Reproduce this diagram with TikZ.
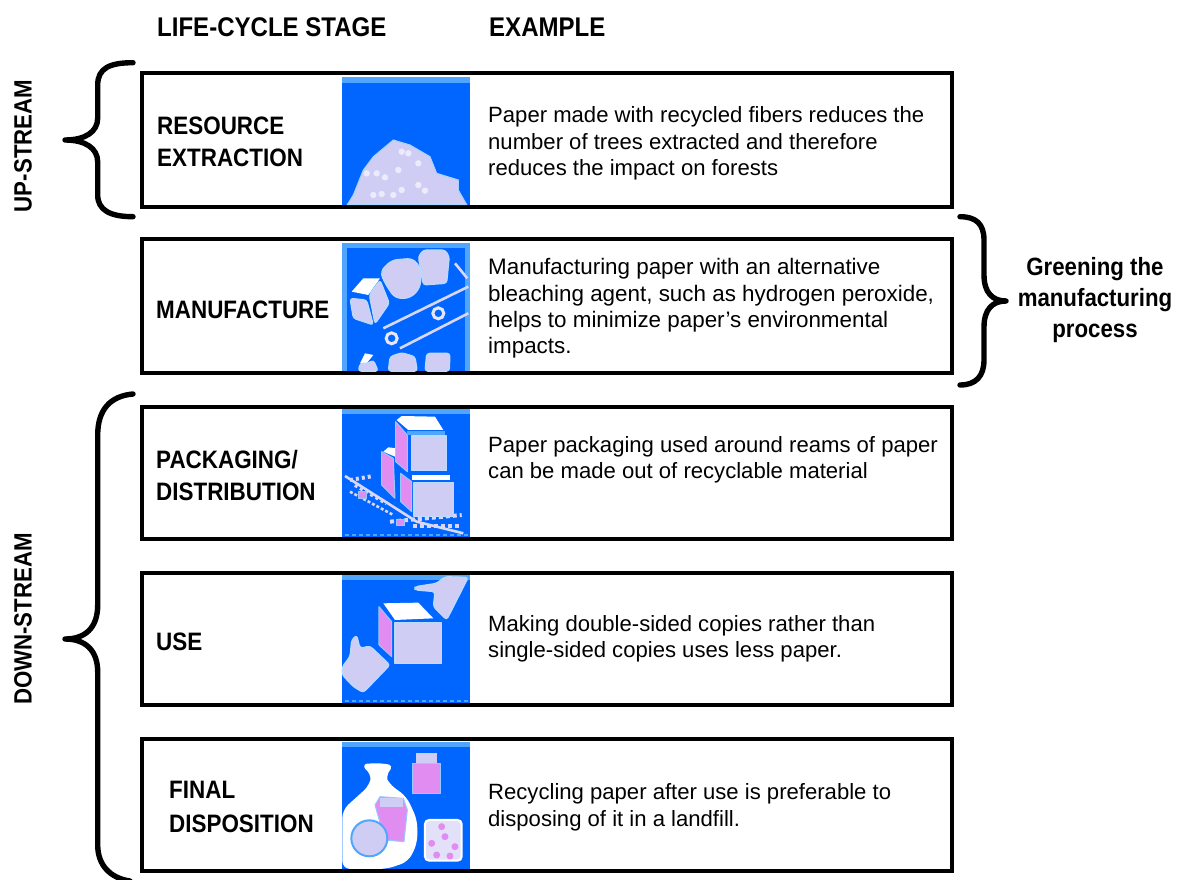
\documentclass[tikz,border=0pt]{standalone}
\usepackage{fontspec}
\setmainfont{Liberation Sans}
\newfontfamily\narrowb[FakeStretch=0.89]{Liberation Sans Bold}
\definecolor{iconblue}{RGB}{0,102,255}
\definecolor{lav}{RGB}{208,205,245}
\definecolor{pinkv}{RGB}{225,140,240}
\definecolor{edgeb}{RGB}{80,165,255}
\tikzset{
 boxr/.style={draw=black,line width=4pt,fill=white,outer sep=0pt,inner sep=0pt,minimum width=810pt,anchor=north west},
 brc/.style={draw=black,line width=5.4pt,line cap=round,line join=round},
 head/.style={font=\fontsize{27}{30}\narrowb,anchor=base west,inner sep=0pt},
 stage/.style={font=\fontsize{25.2}{32}\narrowb,anchor=west,align=left,inner sep=0pt},
 body/.style={font=\fontsize{22.1}{26.5}\selectfont,anchor=west,align=left,inner sep=0pt},
 side/.style={font=\fontsize{25}{31}\narrowb,align=center,inner sep=0pt},
 vert/.style={font=\fontsize{25}{26}\narrowb,rotate=90,inner sep=0pt},
 ibg/.style={fill=iconblue,draw=none},
 ilav/.style={fill=lav,draw=white!60!edgeb,line width=1.2pt,line join=round,rounded corners=3pt},
 ipink/.style={fill=pinkv,draw=white!40!edgeb,line width=1pt,line join=round},
 iwhite/.style={fill=white,draw=none},
 iline/.style={draw=white!20!lav,line width=2.6pt},
 ibase/.style={draw=edgeb,line width=2pt,dash pattern=on 4pt off 3pt},
}
\begin{document}
\begin{tikzpicture}[x=1pt,y=-1pt]
\useasboundingbox (0,0) rectangle (1178,880);
\fill[white] (0,0) rectangle (1178,880);
% headers
\node[head] (h1) at (157,37) {LIFE-CYCLE STAGE};
\node[head] (h2) at (489,37) {EXAMPLE};
% boxes
\node[boxr,minimum height=134pt] (b1) at (142,73) {};
\node[boxr,minimum height=134pt] (b2) at (142,239) {};
\node[boxr,minimum height=132pt] (b3) at (142,407) {};
\node[boxr,minimum height=132pt] (b4) at (142,573) {};
\node[boxr,minimum height=132pt] (b5) at (142,739) {};
% icon 1
\begin{scope}[shift={(330,70)},x=0.3333pt,y=-0.3333pt]
\fill[ibg] (37,22) rectangle (420,404);
\fill[edgeb] (37,22) rectangle (420,38);
\fill[lav,draw=white!50!edgeb,line width=1pt] (52,404) -- (70,375) -- (100,300) -- (130,260) -- (160,235) -- (190,210) -- (240,225) -- (300,260) -- (320,310) -- (385,330) -- (385,360) -- (410,404) -- cycle;
\foreach \p in {(110,310),(140,310),(165,322),(205,300),(215,245),(235,250),(265,280),(265,345),(285,362),(130,375),(215,360),(155,372),(190,375)}
  \fill[white!60!lav] \p circle (3.2pt);
\end{scope}
% icon 2
\begin{scope}[shift={(330,70)},x=0.3333pt,y=-0.3333pt]
\fill[ibg] (40,520) rectangle (418,904);
\fill[edgeb] (37,520) rectangle (420,535);
\fill[edgeb] (37,520) rectangle (52,904);
\fill[edgeb] (405,520) rectangle (420,904);
\draw[ilav,rounded corners=6pt] (150,605) -- (185,570) -- (250,565) -- (275,600) -- (270,655) -- (240,685) -- (195,685) -- (165,640) -- cycle;
\draw[ilav] (265,560) -- (280,540) -- (345,540) -- (358,560) -- (350,640) -- (280,645) -- cycle;
\fill[iwhite] (65,665) -- (100,625) -- (150,625) -- (115,675) -- cycle;
\draw[ilav] (60,685) -- (110,690) -- (130,765) -- (70,745) -- cycle;
\draw[ilav] (118,675) -- (150,630) -- (178,700) -- (135,762) -- cycle;
\draw[iline] (160,775) -- (415,650);
\draw[iline] (210,835) -- (415,730);
\draw[iline] (375,580) -- (412,625);
\draw[white!50!lav,line width=3pt] (185,805) circle (5.5pt);
\draw[white!50!lav,line width=3pt] (325,730) circle (5.5pt);
\draw[ilav] (175,904) -- (180,860) -- (215,848) -- (255,860) -- (262,904) -- cycle;
\draw[ilav] (285,904) -- (290,850) -- (360,850) -- (358,904) -- cycle;
\fill[iwhite] (90,880) -- (105,850) -- (130,855) -- (110,880) -- cycle;
\draw[ilav] (90,880) -- (115,880) -- (130,870) -- (145,904) -- (85,904) -- cycle;
\end{scope}
% icon 3
\begin{scope}[shift={(330,400)},x=0.3333pt,y=-0.3333pt]
\fill[ibg] (37,27) rectangle (420,410);
\fill[edgeb] (37,27) rectangle (420,42);
\draw[ibase] (45,404) -- (420,404);
\draw[iline] (45,228) -- (260,365) -- (400,400);
\draw[iline,dash pattern=on 3pt off 2pt] (60,275) -- (190,345);
\draw[iline,line width=4pt,dash pattern=on 3pt off 3pt] (60,240) -- (130,228);
\draw[iline,line width=4pt,dash pattern=on 3pt off 3pt] (75,255) -- (170,310);
\fill[ipink] (85,275) rectangle (110,295);
\draw[iline,line width=4pt,dash pattern=on 4pt off 3pt] (180,365) -- (395,345);
\draw[iline,line width=4pt,dash pattern=on 4pt off 3pt] (250,378) -- (395,378);
\fill[ipink] (200,360) rectangle (225,378);
\draw[ipink] (155,155) -- (190,175) -- (195,295) -- (155,255) -- cycle;
\fill[iwhite] (160,155) -- (175,142) -- (200,145) -- (225,165) -- (195,170) -- cycle;
\draw[ipink] (197,65) -- (232,105) -- (232,215) -- (197,185) -- cycle;
\fill[iwhite] (200,60) -- (215,48) -- (315,50) -- (340,90) -- (235,90) -- cycle;
\fill[edgeb] (232,92) rectangle (345,106);
\draw[ilav,rounded corners=0pt] (245,108) rectangle (350,212);
\fill[iwhite] (245,225) rectangle (360,240);
\draw[ipink] (212,220) -- (245,245) -- (245,335) -- (212,305) -- cycle;
\draw[ilav,rounded corners=0pt] (252,248) rectangle (370,350);
\end{scope}
% icon 4
\begin{scope}[shift={(330,400)},x=0.3333pt,y=-0.3333pt]
\fill[ibg] (37,525) rectangle (420,908);
\fill[edgeb] (37,525) rectangle (420,540);
\draw[ibase] (45,903) -- (420,903);
\draw[ilav] (255,560) -- (320,550) -- (345,530) -- (415,532) -- (350,660) -- (310,620) -- (315,575) -- (255,570) -- cycle;
\fill[iwhite] (160,610) -- (265,608) -- (310,655) -- (195,660) -- cycle;
\draw[ipink] (147,620) -- (185,665) -- (185,770) -- (147,735) -- cycle;
\draw[ilav,rounded corners=0pt] (195,668) rectangle (335,790);
\draw[ilav] (65,720) -- (80,705) -- (90,745) -- (120,738) -- (180,795) -- (100,878) -- (70,860) -- (37,825) -- (37,800) -- (60,770) -- cycle;
\end{scope}
% icon 5
\begin{scope}[shift={(330,730)},x=0.3333pt,y=-0.3333pt]
\fill[ibg] (37,35) rectangle (420,417);
\fill[edgeb] (37,35) rectangle (420,50);
\fill[iwhite,rounded corners=8pt] (90,105) -- (130,98) -- (195,105) -- (165,135) -- (175,160) -- (230,200) -- (262,270) -- (262,340) -- (235,395) -- (170,417) -- (37,417) -- (37,240) -- (120,165) -- (125,130) -- cycle;
\draw[ipink] (135,225) -- (150,200) -- (220,205) -- (232,240) -- (222,335) -- (165,330) -- cycle;
\fill[lav] (150,205) rectangle (220,232);
\draw[edgeb,line width=2pt,fill=lav] (118,325) circle (18pt);
\draw[ipink] (248,100) rectangle (332,190);
\fill[lav] (258,68) rectangle (320,100);
\fill[white!40!lav,draw=white,line width=2pt,rounded corners=4pt] (285,270) rectangle (395,392);
\foreach \p in {(305,340),(345,320),(375,350),(320,375),(360,378),(335,290)} \fill[pinkv] \p circle (3.5pt);
\end{scope}
% stage labels
\node[stage] (s1) at (157,142) {RESOURCE\\EXTRACTION};
\node[stage] (s2) at (156,310) {MANUFACTURE};
\node[stage] (s3) at (156,475) {PACKAGING/\\DISTRIBUTION};
\node[stage] (s4) at (156,642) {USE};
\node[stage,font=\fontsize{25.2}{34}\narrowb] (s5) at (169,807) {FINAL\\DISPOSITION};
% body
\node[body] (t1) at (488,143.5) {Paper made with recycled fibers reduces the\\number of trees extracted and therefore\\reduces the impact on forests};
\node[body,font=\fontsize{22.4}{26.3}\selectfont] (t2) at (488,308.5) {Manufacturing paper with an alternative\\bleaching agent, such as hydrogen peroxide,\\helps to minimize paper’s environmental\\impacts.};
\node[body] (t3) at (488,460) {Paper packaging used around reams of paper\\can be made out of recyclable material};
\node[body] (t4) at (488,639) {Making double-sided copies rather than\\single-sided copies uses less paper.};
\node[body,font=\fontsize{22.1}{27.5}\selectfont] (t5) at (488,807.5) {Recycling paper after use is preferable to\\disposing of it in a landfill.};
% side labels
\node[side] (g) at (1095,300) {Greening the\\manufacturing\\process};
\node[vert] (u) at (23,146) {UP-STREAM};
\node[vert] (d) at (23,619) {DOWN-STREAM};
% braces
\draw[brc] (133,62.7) .. controls (110,62.7) and (97.7,68) .. (97.7,85) -- (97.7,118) .. controls (97.7,132) and (85,140) .. (65,140) .. controls (85,140) and (97.7,148) .. (97.7,162) -- (97.7,195) .. controls (97.7,210) and (110,216.7) .. (133,216.7);
\draw[brc] (133,394) .. controls (110,396) and (97.7,410) .. (97.7,435) -- (97.7,605) .. controls (97.7,628) and (85,639) .. (65,639) .. controls (85,639) and (97.7,650) .. (97.7,672) -- (97.7,845) .. controls (97.7,865) and (110,878) .. (130,881);
\draw[brc] (960,216.7) .. controls (976,216.7) and (984,224) .. (984,240) -- (984,275) .. controls (984,292) and (992,301) .. (1006,301) .. controls (992,301) and (984,310) .. (984,327) -- (984,360) .. controls (984,376) and (976,385) .. (960,385);
\end{tikzpicture}
\end{document}
